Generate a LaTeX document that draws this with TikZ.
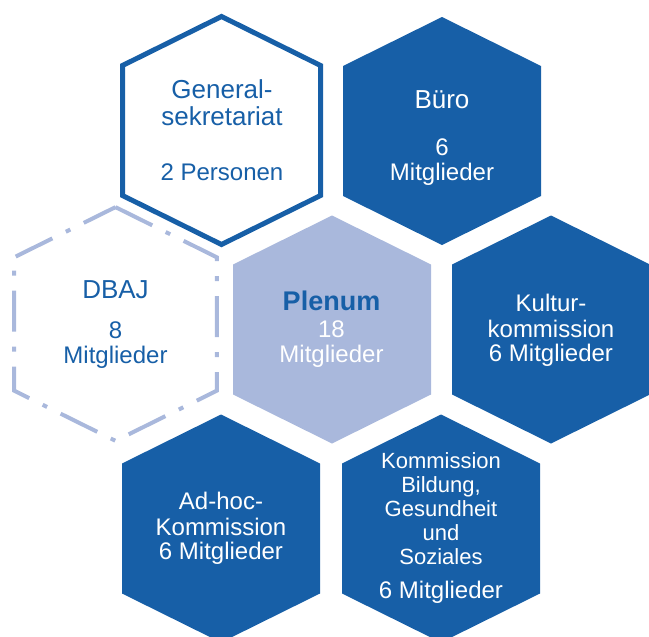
\documentclass[tikz,border=0pt]{standalone}
\usepackage{fontspec}
\setmainfont{Liberation Sans}
\usetikzlibrary{calc}

\definecolor{darkblue}{RGB}{23,95,167}
\definecolor{lightblue}{RGB}{169,184,220}

\newcommand{\titlefont}{\fontsize{26}{26}\selectfont}
\newcommand{\smallfont}{\fontsize{22}{22}\selectfont}

\begin{document}
\begin{tikzpicture}[x=1pt, y=-1pt,
		hexa/.pic={\path[pic actions] (0,-114) -- (99,-65) -- (99,65) -- (0,114) -- (-99,65) -- (-99,-65) -- cycle;},
		hextext/.style={align=center, inner sep=0pt, font=\fontsize{24}{24}\selectfont}
	]
	\useasboundingbox (0,0) rectangle (649,637);
	\clip (0,0) rectangle (649,637);
	
	\coordinate (G) at (221.5, 130.5);
	\coordinate (B) at (442, 131);
	\coordinate (D) at (115.5, 324);
	\coordinate (P) at (332, 329.5);
	\coordinate (K) at (551, 329.5);
	\coordinate (A) at (221, 528.5);
	\coordinate (S) at (441, 528.5);
	
	% hexagons
	\pic[draw=lightblue, line width=4pt, dash pattern=on 41pt off 15pt on 5pt off 15pt, scale=1.025] at (D) {hexa};
	\pic[draw=darkblue, line width=5pt] at (G) {hexa};
	\pic[fill=darkblue] at (B) {hexa};
	\pic[fill=lightblue] at (P) {hexa};
	\pic[fill=darkblue] at (K) {hexa};
	\pic[fill=darkblue] at (A) {hexa};
	\pic[fill=darkblue] at (S) {hexa};
	
	% texts
	\node[hextext, text=darkblue] (gen) at (222, 130) {\titlefont General-\\[3pt]\titlefont sekretariat\\[31pt]2 Personen};
	\node[hextext, text=white] (buero) at (442, 138.5) {\titlefont Büro\\[23pt]6\\[1pt]Mitglieder};
	\node[hextext, text=darkblue] (dbaj) at (115.5, 325) {\titlefont DBAJ\\[16pt]8\\[1pt]Mitglieder};
	\node[hextext, text=white] (plenum) at (331.5, 329) {\fontsize{27}{27}\selectfont\bfseries\color{darkblue}Plenum\\[3pt]18\\[1pt]Mitglieder};
	\node[hextext, text=white] (kultur) at (551, 330) {Kultur-\\[2pt]kommission\\6 Mitglieder};
	\node[hextext, text=white] (adhoc) at (221, 528.5) {Ad-hoc-\\[2pt]Kommission\\6 Mitglieder};
	\node[hextext, text=white] (bildung) at (441, 528.5) {\smallfont Kommission\\\smallfont Bildung,\\\smallfont Gesundheit\\\smallfont und\\\smallfont Soziales\\[10pt]6 Mitglieder};
\end{tikzpicture}
\end{document}
